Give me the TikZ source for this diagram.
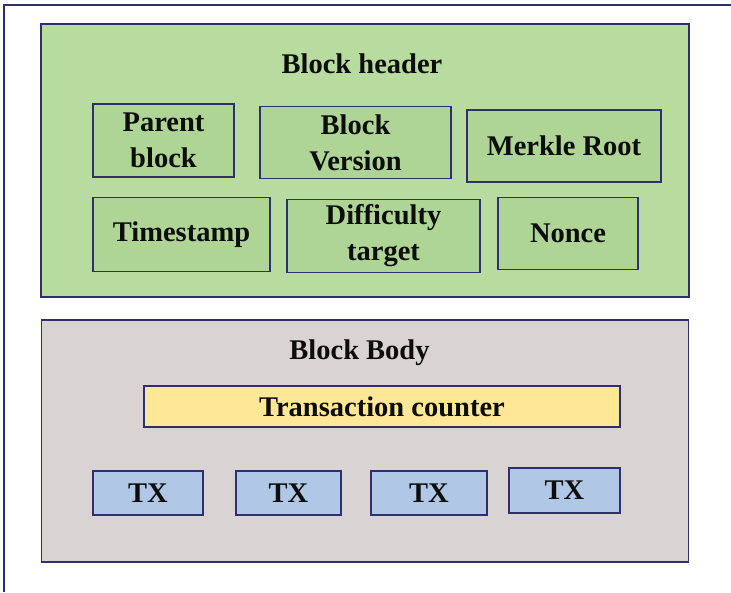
\documentclass[tikz,border=0pt]{standalone}
\usepackage{fontspec}
\setmainfont{Liberation Serif}
\begin{document}
\begin{tikzpicture}[x=1pt,y=-1pt,
  every node/.style={font=\fontsize{28.5}{36}\selectfont\bfseries, text=black!95, align=center, inner sep=0pt},
  frame/.style={draw=navy, line width=1.8pt},
  hdrbox/.style={frame, fill=hdrgreen},
  bodybox/.style={frame, fill=bodygray},
  field/.style={frame, fill=fieldgreen},
  counter/.style={frame, fill=cntyellow},
  txbox/.style={frame, fill=txblue}]
\definecolor{navy}{HTML}{2F2F6B}
\definecolor{hdrgreen}{HTML}{B8DBA0}
\definecolor{fieldgreen}{HTML}{AED596}
\definecolor{bodygray}{HTML}{D9D4D3}
\definecolor{cntyellow}{HTML}{FEE898}
\definecolor{txblue}{HTML}{B0C8E5}
\useasboundingbox[fill=white] (0,0) rectangle (731,592);
\coordinate (fa) at (4,592);
\coordinate (fb) at (4,5);
\coordinate (fc) at (731,5);
\draw[navy, line width=1.6pt] (fa) -- (fb) -- (fc);
\node[hdrbox, minimum width=648pt, minimum height=273pt] (header) at (365,160.5) {};
\node[bodybox, minimum width=647pt, minimum height=242pt] (body) at (365,441) {};
\node (htitle) at (362,63.5) {Block header};
\node (btitle) at (359.5,352.5) {Block Body};
\node[field, minimum width=141pt, minimum height=73pt] (parent) at (163.5,140.5) {Parent\\block};
\node[field, minimum width=191pt, minimum height=72pt] (version) at (355.5,142.5) {Block\\Version};
\node[field, minimum width=194pt, minimum height=72pt] (merkle) at (564,146) {Merkle Root};
\node[field, minimum width=177pt, minimum height=74pt] (time) at (181.5,234.5) {Timestamp};
\node[field, minimum width=193pt, minimum height=73pt] (diff) at (383.5,236) {Difficulty\\target};
\node[field, minimum width=140pt, minimum height=72pt] (nonce) at (568,233.5) {Nonce};
\node[counter, minimum width=476pt, minimum height=41pt] (count) at (382,406.5) {Transaction counter};
\node[txbox, minimum width=110pt, minimum height=44pt] (tx1) at (148,493) {TX};
\node[txbox, minimum width=105pt, minimum height=44pt] (tx2) at (288.5,493) {TX};
\node[txbox, minimum width=116pt, minimum height=44pt] (tx3) at (429,493) {TX};
\node[txbox, minimum width=111pt, minimum height=45pt] (tx4) at (564.5,490.5) {TX};
\end{tikzpicture}
\end{document}
